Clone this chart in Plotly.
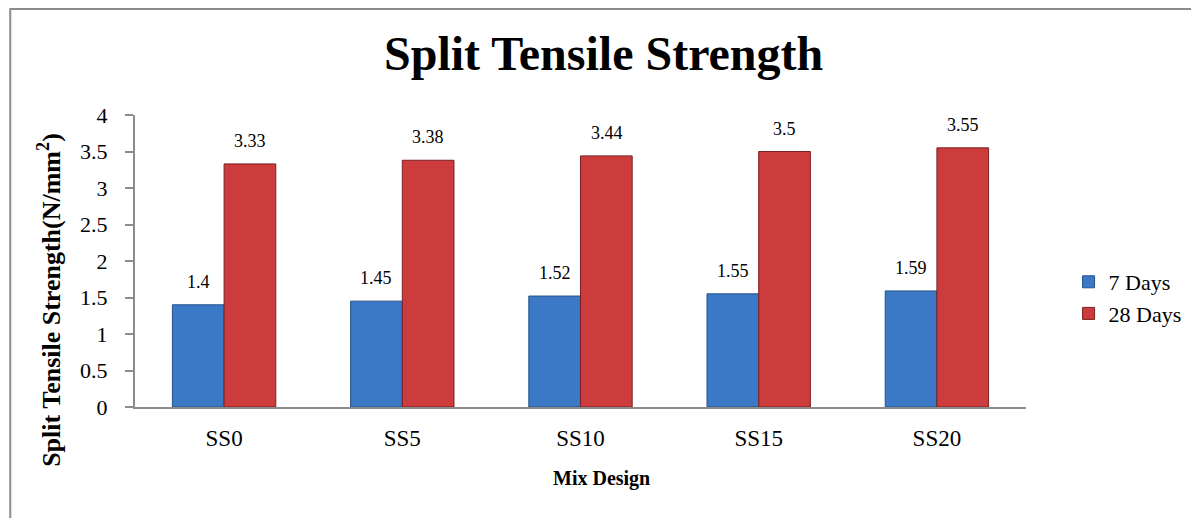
import plotly.graph_objects as go

categories = ["SS0", "SS5", "SS10", "SS15", "SS20"]
days7 = [1.4, 1.45, 1.52, 1.55, 1.59]
days28 = [3.33, 3.38, 3.44, 3.5, 3.55]
series_names = ["7 Days", "28 Days"]
y_ticks = [0, 0.5, 1, 1.5, 2, 2.5, 3, 3.5, 4]
y_tick_labels = ["0", "0.5", "1", "1.5", "2", "2.5", "3", "3.5", "4"]

FONT = "Liberation Serif, Times New Roman, serif"
OFF = 8  # default page body margin
W, H = 1199 - OFF, 518 - OFF
L, T = 135 - OFF, 115 - OFF
pw, ph = 900, 292
R, B = W - L - pw, H - T - ph


def xp(px):
    return (px - OFF - L) / pw


def yp(py):
    return (T + ph - (py - OFF)) / ph


blue = "#3b78c6"
red = "#cc3c3c"

fig = go.Figure()
fig.add_trace(go.Bar(x=categories, y=days7, name=series_names[0],
                     marker=dict(color=blue, line=dict(color="#24508a", width=1))))
fig.add_trace(go.Bar(x=categories, y=days28, name=series_names[1],
                     marker=dict(color=red, line=dict(color="#7a1f1f", width=1))))

ann = []
for c, v in zip(categories, days7):
    ann.append(dict(x=c, y=v, xref="x", yref="y", text=str(v), showarrow=False,
                    xanchor="center", yanchor="middle",
                    xshift=-26, yshift=23, font=dict(family=FONT, size=18, color="black")))
for c, v in zip(categories, days28):
    ann.append(dict(x=c, y=v, xref="x", yref="y", text=str(v), showarrow=False,
                    xanchor="center", yanchor="middle",
                    xshift=26, yshift=23, font=dict(family=FONT, size=18, color="black")))
ann.append(dict(x=xp(608), y=yp(54), xref="paper", yref="paper",
                xanchor="center", yanchor="middle",
                text="<b>Split Tensile Strength</b>", showarrow=False,
                font=dict(family=FONT, size=48, color="black")))
ann.append(dict(x=xp(48), y=yp(300), xref="paper", yref="paper",
                xanchor="center", yanchor="middle",
                text="<b>Split Tensile Strength(N/mm<sup>2</sup>)</b>", showarrow=False,
                textangle=-90, font=dict(family=FONT, size=26, color="black")))
ann.append(dict(x=xp(606), y=yp(478), xref="paper", yref="paper",
                xanchor="center", yanchor="middle",
                text="<b>Mix Design</b>", showarrow=False,
                font=dict(family=FONT, size=20, color="black")))

fig.update_layout(
    width=W, height=H,
    margin=dict(l=L, r=R, t=T, b=B),
    paper_bgcolor="white", plot_bgcolor="white",
    barmode="group", bargap=0.42, bargroupgap=0,
    font=dict(family=FONT, color="black"),
    annotations=ann,
    legend=dict(x=xp(1078), y=yp(298), xanchor="left", yanchor="middle",
                font=dict(family=FONT, size=22, color="black"), tracegroupgap=0,
                itemwidth=30),
    shapes=[dict(type="rect", xref="paper", yref="paper",
                 x0=xp(OFF + 1), x1=xp(1199 + 20),
                 y0=yp(518 + 20), y1=yp(OFF + 1),
                 line=dict(color="#8c8c8c", width=2), layer="below")],
)
fig.update_xaxes(showline=True, linecolor="#8c8c8c", linewidth=2, ticks="",
                 tickfont=dict(family=FONT, size=23, color="black"),
                 ticklabelstandoff=9, showgrid=False)
fig.update_yaxes(range=[0, 4], tickvals=y_ticks, ticktext=y_tick_labels,
                 showline=True, linecolor="#8c8c8c", linewidth=2,
                 ticks="outside", ticklen=8, tickcolor="#8c8c8c", tickwidth=2,
                 tickfont=dict(family=FONT, size=22, color="black"),
                 ticklabelstandoff=13, showgrid=False, zeroline=False)

fig.write_html("out.html")
